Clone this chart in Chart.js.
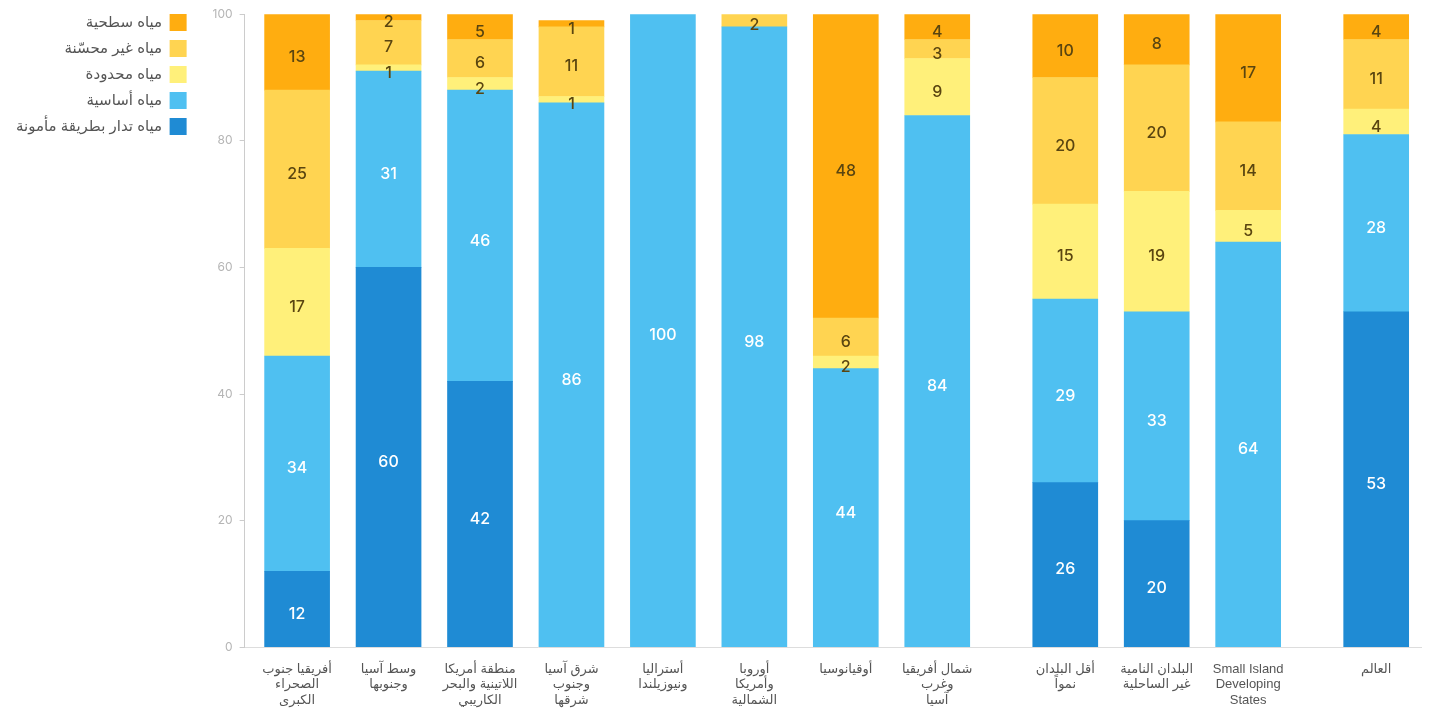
<!DOCTYPE html>
<html>
<head>
<meta charset="utf-8">
<script src="https://cdn.jsdelivr.net/npm/chart.js@4"></script>
<style>
  html, body { margin: 0; padding: 0; background: #ffffff; }
  #wrap { width: 1429px; height: 726px; position: relative; }
</style>
</head>
<body>
<div id="wrap"><canvas id="c"></canvas></div>
<script>
// Categories (x-axis labels, each as lines)
const categories = [
  ['أفريقيا جنوب', 'الصحراء', 'الكبرى'],
  ['وسط آسيا', 'وجنوبها'],
  ['منطقة أمريكا', 'اللاتينية والبحر', 'الكاريبي'],
  ['شرق آسيا', 'وجنوب', 'شرقها'],
  ['أستراليا', 'ونيوزيلندا'],
  ['أوروبا', 'وأمريكا', 'الشمالية'],
  ['أوقيانوسيا'],
  ['شمال أفريقيا', 'وغرب', 'آسيا'],
  ['أقل البلدان', 'نمواً'],
  ['البلدان النامية', 'غير الساحلية'],
  ['Small Island', 'Developing', 'States'],
  ['العالم']
];
// group each category belongs to (regions, country groups, world)
const groups = [0, 0, 0, 0, 0, 0, 0, 0, 1, 1, 1, 2];

// Series values (%)
const safelyManaged = [12, 60, 42, null, null, null, null, null, 26, 20, null, 53];
const basicWater    = [34, 31, 46, 86, 100, 98, 44, 84, 29, 33, 64, 28];
const limitedWater  = [17, 1, 2, 1, null, null, 2, 9, 15, 19, 5, 4];
const unimproved    = [25, 7, 6, 11, null, 2, 6, 3, 20, 20, 14, 11];
const surfaceWater  = [13, 2, 5, 1, null, null, 48, 4, 10, 8, 17, 4];

const seriesNames = ['مياه تدار بطريقة مأمونة', 'مياه أساسية', 'مياه محدودة', 'مياه غير محسّنة', 'مياه سطحية'];
const yTicks = [0, 20, 40, 60, 80, 100];

const GROUP_GAP = 0.4;
const xPos = categories.map((c, i) => i + groups[i] * GROUP_GAP);

const colors = ['#1f8bd4', '#4fc0f1', '#fff07a', '#ffd451', '#ffad10'];
const labelColors = ['#ffffff', '#ffffff', '#5a4510', '#5a4510', '#5a4510'];

const allSeries = [safelyManaged, basicWater, limitedWater, unimproved, surfaceWater];
const datasets = allSeries.map((arr, k) => ({
  label: seriesNames[k],
  data: arr.map((v, i) => ({ x: xPos[i], y: v })),
  backgroundColor: colors[k],
  borderWidth: 0,
  barThickness: 65
}));

const segLabels = {
  id: 'segLabels',
  afterDatasetsDraw(chart) {
    const ctx = chart.ctx;
    const area = chart.chartArea;
    ctx.save();
    ctx.font = '500 16px Inter, "Noto Sans", sans-serif';
    ctx.textAlign = 'center';
    ctx.textBaseline = 'middle';
    chart.data.datasets.forEach((ds, k) => {
      const meta = chart.getDatasetMeta(k);
      if (meta.hidden) return;
      meta.data.forEach((el, i) => {
        const v = ds.data[i].y;
        if (v === null || v === undefined) return;
        const top = Math.max(el.y, area.top);
        const bottom = Math.min(el.base, area.bottom);
        const y = (top + bottom) / 2 + 5;
        ctx.fillStyle = labelColors[k];
        ctx.fillText(String(v), el.x, y);
      });
    });
    ctx.restore();
  }
};

const legendShift = {
  id: 'legendShift',
  afterLayout(chart) {
    const lg = chart.legend;
    if (lg) { lg.top -= 9; lg.bottom -= 9; }
  }
};

new Chart(document.getElementById('c'), {
  type: 'bar',
  data: { datasets },
  options: {
    responsive: true,
    maintainAspectRatio: false,
    animation: false,
    layout: { padding: { top: 14, right: 8, left: 6, bottom: 4 } },
    plugins: {
      legend: {
        position: 'left',
        align: 'start',
        reverse: true,
        rtl: true,
        textDirection: 'rtl',
        labels: {
          boxWidth: 17,
          boxHeight: 17,
          padding: 9,
          color: '#555555',
          font: { family: '"Liberation Sans", "DejaVu Sans", sans-serif', size: 15 }
        }
      },
      tooltip: { enabled: false }
    },
    scales: {
      x: {
        type: 'linear',
        stacked: true,
        offset: false,
        min: -0.574,
        max: 12.29,
        afterBuildTicks(scale) {
          scale.ticks = xPos.map(v => ({ value: v }));
        },
        grid: { display: false, drawTicks: false, offset: false },
        border: { display: true, color: '#dddddd', width: 1 },
        ticks: {
          autoSkip: false,
          maxRotation: 0,
          padding: 14,
          color: '#555555',
          font: { family: '"Liberation Sans", "DejaVu Sans", sans-serif', size: 13, lineHeight: 1.2 },
          callback: (value, index) => categories[index]
        }
      },
      y: {
        stacked: true,
        min: 0,
        max: 100,
        afterBuildTicks(scale) {
          scale.ticks = yTicks.map(v => ({ value: v }));
        },
        afterFit(scale) {
          scale.width = 49;
        },
        grid: { drawOnChartArea: false, tickLength: 5, color: '#cccccc' },
        border: { display: true, color: '#cccccc' },
        ticks: {
          padding: 7,
          color: '#b5b5b5',
          font: { family: 'Inter, "Noto Sans", sans-serif', size: 12 }
        }
      }
    }
  },
  plugins: [segLabels, legendShift]
});
</script>
</body>
</html>
